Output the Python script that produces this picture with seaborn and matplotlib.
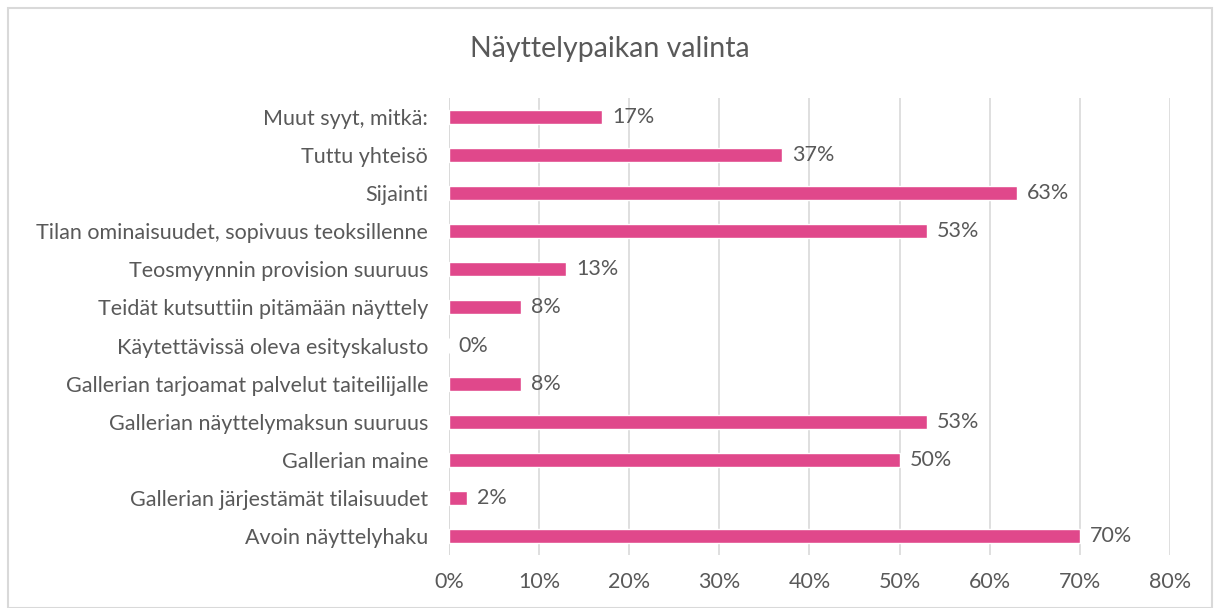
import matplotlib
matplotlib.use("Agg")
import matplotlib.pyplot as plt
import matplotlib.patches as mpatches
from matplotlib.ticker import PercentFormatter
import pandas as pd
import seaborn as sns

categories = [
    "Muut syyt, mitkä:",
    "Tuttu yhteisö",
    "Sijainti",
    "Tilan ominaisuudet, sopivuus teoksillenne",
    "Teosmyynnin provision suuruus",
    "Teidät kutsuttiin pitämään näyttely",
    "Käytettävissä oleva esityskalusto",
    "Gallerian tarjoamat palvelut taiteilijalle",
    "Gallerian näyttelymaksun suuruus",
    "Gallerian maine",
    "Gallerian järjestämät tilaisuudet",
    "Avoin näyttelyhaku",
]
values = [17, 37, 63, 53, 13, 8, 0, 8, 53, 50, 2, 70]
ticks = [0, 10, 20, 30, 40, 50, 60, 70, 80]

text_color = "#595959"
bar_color = "#E0488B"

sns.set_theme(style="white")
plt.rcParams["font.family"] = ["Lato", "DejaVu Sans"]

df = pd.DataFrame({"syy": categories, "osuus": values})

fig = plt.figure(figsize=(12.2, 6.08), dpi=100)
ax = fig.add_axes([0.368, 0.087, 0.591, 0.752])

sns.barplot(data=df, x="osuus", y="syy", color=bar_color, width=0.37,
            saturation=1, ax=ax, zorder=3)

ax.set_xlim(0, 80)
ax.set_xticks(ticks)
ax.xaxis.set_major_formatter(PercentFormatter(decimals=0))
ax.grid(axis="x", color="#D9D9D9", linewidth=1.2, zorder=0)
for s in ax.spines.values():
    s.set_visible(False)
ax.axvline(0, color="#D9D9D9", linewidth=1.2, zorder=1)
ax.set_xlabel("")
ax.set_ylabel("")
ax.tick_params(axis="both", length=0, labelsize=15.5, labelcolor=text_color)
ax.tick_params(axis="x", pad=12)
ax.tick_params(axis="y", pad=15)

for i, v in enumerate(values):
    ax.text(v + 1.1, i, f"{v}%", va="center", ha="left", fontsize=15.5,
            color=text_color)

fig.text(0.5, 0.92, "Näyttelypaikan valinta", ha="center", va="center",
         fontsize=20.5, color=text_color)

border = mpatches.Rectangle((8 / 1220, 0), 1 - 16 / 1220, 1 - 8 / 608,
                            transform=fig.transFigure, fill=False,
                            edgecolor="#D9D9D9", linewidth=1.5)
fig.patches.append(border)

fig.savefig("out.png", dpi=100, facecolor="white")
